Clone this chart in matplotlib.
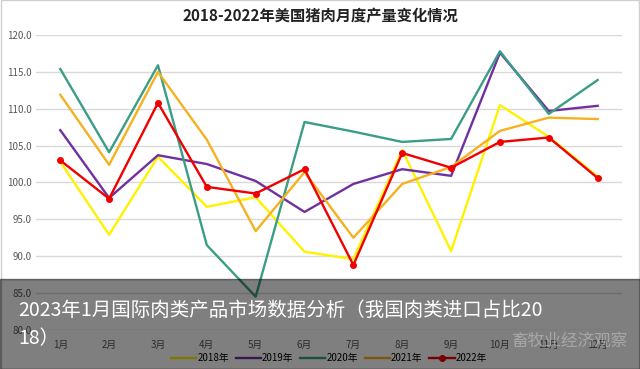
import numpy as np
import matplotlib
matplotlib.use("Agg")
import matplotlib.pyplot as plt
from matplotlib.patches import Rectangle

plt.rcParams['font.family'] = ['Noto Sans CJK SC', 'DejaVu Sans']

months = ["1月", "2月", "3月", "4月", "5月", "6月", "7月", "8月", "9月", "10月", "11月", "12月"]
y2018 = [102.8, 92.9, 103.5, 96.7, 98.0, 90.6, 89.6, 104.4, 90.7, 110.5, 106.2, 100.8]
y2019 = [107.1, 97.9, 103.7, 102.5, 100.2, 96.0, 99.8, 101.8, 100.9, 117.6, 109.7, 110.4]
y2020 = [115.4, 104.1, 115.9, 91.5, 84.5, 108.2, 106.9, 105.5, 105.9, 117.8, 109.3, 113.9]
y2021 = [111.9, 102.4, 115.0, 105.8, 93.4, 101.4, 92.5, 99.8, 102.1, 107.0, 108.8, 108.6]
y2022 = [103.0, 97.8, 110.8, 99.4, 98.5, 101.8, 88.8, 104.0, 102.0, 105.5, 106.1, 100.6]
yticks = [80, 85, 90, 95, 100, 105, 110, 115, 120]

fig = plt.figure(figsize=(6.4, 3.69), dpi=100)
ax = fig.add_axes([0.056, 0.106, 0.916, 0.799])
x = np.arange(len(months))

ax.plot(x, y2018, color="#FFF200", lw=1.7, label="2018年")
ax.plot(x, y2019, color="#7030A0", lw=1.7, label="2019年")
ax.plot(x, y2020, color="#3A9E86", lw=1.7, label="2020年")
ax.plot(x, y2021, color="#F5B120", lw=1.7, label="2021年")
ax.plot(x, y2022, color="#F00000", lw=1.7, marker="o", ms=4, label="2022年")

ax.set_xlim(-0.5, 11.5)
ax.set_ylim(80, 120)
ax.set_yticks(yticks)
ax.set_yticklabels([f"{v:.1f}" for v in yticks], fontsize=7, color="#595959")
ax.set_xticks(x)
ax.set_xticklabels(months, fontsize=7, color="#595959")
ax.tick_params(axis="y", length=0, pad=3)
ax.tick_params(axis="x", length=0, pad=7)
ax.grid(axis="y", color="#D9D9D9", lw=1)
ax.set_axisbelow(True)
for s in ax.spines.values():
    s.set_visible(False)

fig.text(0.5, 0.955, "2018-2022年美国猪肉月度产量变化情况", ha="center", va="center",
         fontsize=11, fontweight="bold", color="#222222")

ax.legend(loc="upper center", bbox_to_anchor=(0.5, -0.05), ncol=5, frameon=False,
          fontsize=7, handlelength=2.6, columnspacing=0.7, handletextpad=0.1)

# border of the chart image
fig.patches.append(Rectangle((0.001, 0.001), 0.998, 0.998, transform=fig.transFigure,
                             fill=False, ec="#D0D0D0", lw=1))

# dark caption band laid over the bottom
fig.patches.append(Rectangle((0, 0), 1, 90 / 369, transform=fig.transFigure,
                             color="#000000", alpha=0.5, zorder=10))
fig.text(0.028, 0.16, "2023年1月国际肉类产品市场数据分析（我国肉类进口占比20",
         fontsize=14, color="white", va="center", zorder=11)
fig.text(0.028, 0.082, "18）", fontsize=14, color="white", va="center", zorder=11)
fig.text(0.98, 0.075, "畜牧业经济观察", fontsize=12, color="#c8c8c8", alpha=0.55,
         ha="right", va="center", zorder=11)

fig.savefig("out.png", dpi=100)
